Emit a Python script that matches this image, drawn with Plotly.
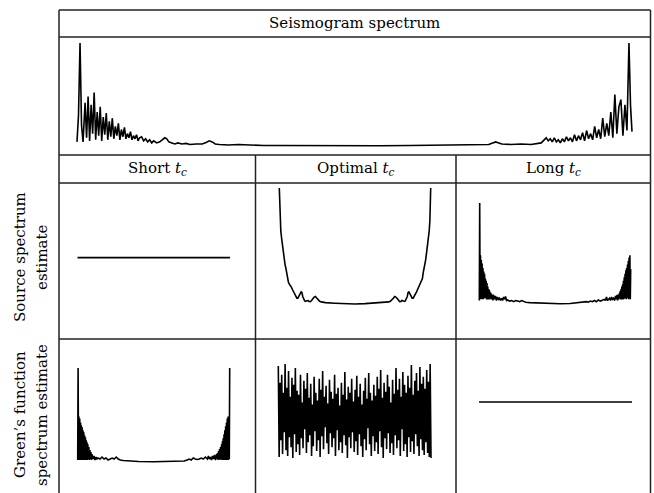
import numpy as np
import plotly.graph_objects as go

W, H = 654, 493

# ---------------- data ----------------
# Seismogram amplitude spectrum (frequency bin, relative amplitude)
seis_freq = [0, 1.5, 3, 4.5, 6, 8, 9.5, 11, 12.5, 14, 15.5, 17, 18.5, 20, 21.5, 23, 24.5, 26, 27.5, 29,
             30.5, 32, 33.5, 35, 36.5, 38, 39.5, 41, 42.5, 44, 45.5, 47, 48.5, 50, 51.5, 53, 54.5, 56,
             57.5, 59, 60.5, 62, 64, 66, 68, 70, 72, 74, 76, 79, 82, 85, 87, 89, 91, 94, 97, 100, 104,
             108, 112, 118, 124, 128, 131, 134, 137, 141, 150, 160, 170, 185, 200, 230, 260, 300, 330,
             360, 380, 400, 408, 412, 415, 418, 421, 430, 440, 450, 456, 460, 463, 465, 467, 469, 471,
             473, 475, 477, 479, 481, 483, 485, 487, 489, 491, 493, 495, 497, 499, 501, 503, 505, 507,
             509, 511, 513, 515, 517, 519, 521, 523, 525, 527, 529, 531, 533, 535, 537, 539, 541, 543,
             545, 547, 548.5, 550]
seis_amp = [4, 30, 100, 20, 4, 42, 8, 48, 5, 40, 12, 52, 6, 33, 10, 38, 5, 28, 11, 32,
            6, 24, 9, 27, 7, 19, 10, 22, 6, 16, 9, 18, 7, 12, 8, 14, 6, 10,
            7, 11, 5, 8, 9, 5, 7, 4, 6, 3, 5, 3, 4, 6, 8, 7, 4, 3, 2, 3, 2,
            2.5, 1.5, 2, 2, 3.5, 5, 4, 2, 1.5, 1, 1.5, 1, 0.5, 0.5, 0.3, 0.2, 0.3, 0.5,
            0.8, 1, 1.5, 1.5, 3, 4, 3, 2, 1.5, 2, 1.5, 2, 3, 6, 8, 5, 7, 4,
            8, 4, 6, 3, 7, 4, 9, 5, 8, 4, 11, 5, 10, 6, 13, 5, 15, 7,
            12, 6, 19, 8, 16, 7, 27, 9, 22, 10, 33, 8, 50, 12, 38, 45, 10, 40,
            15, 100, 40, 14]

# Source spectrum estimates
src_short_freq = [0, 150]
src_short_amp = [40, 40]

src_opt_freq = [0, 0.4, 0.8, 1.5, 2.4, 3.2, 4, 5, 5.7, 6.5, 7.4, 8.2, 9, 10.3, 11.7, 13, 14, 15.2, 16.4,
                17.4, 18.4, 19.6, 20.7, 21.6, 22.4, 23.2, 24, 25, 25.7, 27, 28.4, 29.5, 30.7, 32, 33,
                34.5, 35.7, 37, 38.4, 40, 41.7, 45.7, 55, 65, 75, 85, 95,
                104.3, 108.3, 110, 111.6, 113, 114.3, 115.5, 117, 118, 119.3, 120.5, 121.6, 123, 124.3,
                125, 126, 126.8, 127.6, 128.4, 129.3, 130.4, 131.6, 132.6, 133.6, 134.8, 136, 137,
                138.3, 139.7, 141, 141.8, 142.6, 143.5, 144.3, 145, 146, 146.8, 147.6, 148.5, 149.2,
                149.6, 150]
src_opt_amp = [100, 85, 72, 63, 56, 50, 45, 38, 34, 31, 27, 22, 19, 16.5, 15, 12.5, 10.5, 8, 6.3,
               5, 5, 6.5, 9, 10.5, 10, 6.5, 4.5, 3, 2.3, 2.6, 3, 2.2, 2, 3, 4.5,
               6, 6.5, 5, 3.5, 2.3, 1.8, 1.2, 0.7, 0.3, 0, 0.3, 0.7,
               1.2, 1.8, 2.3, 3.5, 5, 6.5, 6, 4.5, 3, 2, 2.2, 3, 2.6, 2.3,
               3, 4.5, 6.5, 10, 10.5, 9, 6.5, 5, 5, 6.3, 8, 10.5, 12.5,
               15, 16.5, 19, 22, 27, 31, 34, 38, 45, 50, 56, 63, 72,
               85, 100]

src_long_freq = [0, 0.4, 0.8, 1.2, 1.6, 2.0, 2.4, 2.8, 3.2, 3.6, 4.0, 4.4, 4.8, 5.2, 5.6, 6.0, 6.4, 6.8,
                 7.2, 7.6, 8.0, 8.4, 8.8, 9.2, 9.6, 10, 10.5, 11, 11.5, 12, 12.5, 13, 13.5, 14, 15, 16,
                 17, 18, 19, 20, 21, 22, 23, 24, 25, 26, 27, 28, 30, 32, 34, 36, 38, 40, 42, 44, 46, 50,
                 55, 60, 70, 80, 90, 95, 100, 104, 106, 108, 110, 112, 114, 116, 118, 120, 122, 124, 125,
                 126, 127, 128, 129, 130, 131, 132, 133, 134, 135, 136, 136.5, 137, 137.5, 138, 138.5,
                 139, 139.5, 140, 140.4, 140.8, 141.2, 141.6, 142, 142.4, 142.8, 143.2, 143.6, 144, 144.4,
                 144.8, 145.2, 145.6, 146, 146.4, 146.8, 147.2, 147.6, 148, 148.4, 148.8, 149.2, 149.6, 150]
src_long_amp = [3, 87, 4, 42, 5, 38, 4, 35, 6, 31, 4, 28, 6, 26, 5, 22, 6, 20,
                4, 18, 5, 15, 4, 13, 5, 12, 4, 10, 5, 9, 4, 8, 3, 8, 4, 7,
                3, 6, 4, 5, 3, 5, 3, 6, 4, 6.5, 3, 3.5, 2.5, 3, 2, 3, 2.5, 2, 3, 2, 1.5, 1.2,
                1, 0.6, 0.3, 0.2, 0.4, 0.8, 1, 1.5, 2, 1.5, 2.5, 2, 3, 2, 3.5, 2.5, 3, 4, 3,
                6, 3, 4, 5, 3, 6, 4, 5, 3, 7, 4, 8, 3, 8, 4, 9,
                5, 11, 4, 13, 5, 15, 4, 17, 5, 20, 4, 23, 6, 26, 5, 29,
                4, 31, 6, 34, 5, 37, 4, 40, 6, 42, 4, 30, 5, 87, 3]

# Green's function spectrum estimates
grn_short_freq = [0, 0.4, 0.8, 1.2, 1.6, 2.0, 2.4, 2.8, 3.2, 3.6, 4.0, 4.4, 4.8, 5.2, 5.6, 6.0, 6.4, 6.8,
                  7.2, 7.6, 8.0, 8.4, 8.8, 9.2, 9.6, 10, 10.5, 11, 11.5, 12, 12.5, 13, 13.5, 14, 15, 16,
                  17, 18, 19, 20, 22, 24, 26, 28, 30, 32, 34, 36, 38, 40, 42, 45, 50, 60, 75, 90, 100,
                  105, 108, 110, 112, 114, 116, 118, 120, 122, 124, 126, 128, 129, 130, 131, 132, 133,
                  134, 135, 136, 137, 137.5, 138, 138.5, 139, 139.5, 140, 140.5, 141, 141.5, 142, 142.4,
                  142.8, 143.2, 143.6, 144, 144.4, 144.8, 145.2, 145.6, 146, 146.4, 146.8, 147.2, 147.6,
                  148, 148.4, 148.8, 149.2, 149.6, 150]
grn_short_amp = [2, 95, 3, 46, 2, 44, 3, 40, 2, 37, 3, 35, 2, 32, 3, 30, 2, 27,
                 3, 25, 2, 22, 3, 20, 2, 18, 3, 15, 2, 12, 3, 10, 2, 8, 3, 6,
                 2, 5, 3, 4, 3, 5, 3, 4, 2, 3, 4, 3, 5, 3, 2, 1.5, 1, 0.5, 0.2, 0.3, 0.6,
                 1, 2, 3, 2, 4, 3, 2.5, 3, 4, 3, 5, 3, 6, 3, 5, 2, 6,
                 3, 7, 2, 8, 3, 9, 2, 11, 3, 13, 2, 15, 3, 18, 2,
                 21, 3, 24, 2, 28, 3, 32, 2, 36, 3, 40, 2, 44,
                 3, 46, 2, 40, 3, 95, 2]

grn_opt_amp = [97, 5, 80, 22, 88, 8, 70, 30, 99, 12, 75, 6, 92, 25, 66, 15, 85, 4, 78, 28,
               95, 10, 72, 18, 68, 7, 88, 24, 60, 14, 82, 33, 74, 9, 90, 20, 65, 27, 79, 6,
               58, 16, 86, 31, 70, 11, 62, 22, 84, 5, 73, 26, 92, 13, 66, 35, 77, 19, 59, 8,
               83, 29, 71, 15, 64, 24, 88, 6, 69, 32, 75, 12, 57, 20, 80, 9, 68, 27, 91, 17,
               63, 4, 76, 25, 70, 14, 84, 30, 61, 10, 73, 21, 87, 7, 66, 28, 79, 16, 58, 5,
               72, 23, 85, 12, 64, 34, 90, 18, 70, 6, 62, 26, 78, 11, 67, 20, 86, 8, 74, 31,
               93, 15, 65, 4, 80, 24, 71, 13, 88, 29, 76, 9, 60, 19, 83, 7, 69, 27, 95, 14,
               73, 22, 84, 6, 66, 33, 91, 11, 78, 18, 70, 5, 87, 25, 75, 10, 98, 21, 68, 8,
               82, 28, 90, 16, 72, 6, 96, 23, 79, 12, 86, 7, 74, 20, 93, 9, 81, 5, 99, 4]
grn_opt_freq = np.linspace(0, 150, len(grn_opt_amp))

grn_long_freq = [0, 150]
grn_long_amp = [60.6, 60.6]

header_top = "Seismogram spectrum"
col_headers = ["Short <i>t</i><sub><i>c</i></sub>", "Optimal <i>t</i><sub><i>c</i></sub>",
               "Long <i>t</i><sub><i>c</i></sub>"]
row_labels = [("Source spectrum", "estimate"), ("Green\u2019s function", "spectrum estimate")]

# ---------------- layout geometry (pixels) ----------------
FONT = "DejaVu Serif"
LINE = dict(color="black", width=1.6)

panels = [
    (seis_freq, seis_amp, (77, 632, 43, 146), (0, 550, 0, 100)),
    (src_short_freq, src_short_amp, (77.5, 230, 188, 304), (0, 150, 0, 100)),
    (src_opt_freq, src_opt_amp, (279.3, 430.7, 188, 304), (0, 150, 0, 100)),
    (src_long_freq, src_long_amp, (479.3, 630.7, 188, 304), (0, 150, 0, 100)),
    (grn_short_freq, grn_short_amp, (77.7, 229.7, 363, 462), (0, 150, 0, 100)),
    (grn_opt_freq, grn_opt_amp, (278.3, 431, 363, 462), (0, 150, 0, 100)),
    (grn_long_freq, grn_long_amp, (479, 632, 363, 462), (0, 150, 0, 100)),
]

fig = go.Figure()
layout = dict(width=W, height=H, margin=dict(l=0, r=0, t=0, b=0),
              paper_bgcolor="white", plot_bgcolor="rgba(0,0,0,0)", showlegend=False)

PAD = 5
for i, (fx, fy, (xl, xr, yt, yb), (x0, x1, y0, y1)) in enumerate(panels):
    n = "" if i == 0 else str(i + 1)
    sx = (x1 - x0) / (xr - xl)
    sy = (y1 - y0) / (yb - yt)
    layout["xaxis" + n] = dict(domain=[(xl - PAD) / W, (xr + PAD) / W],
                               range=[x0 - PAD * sx, x1 + PAD * sx], visible=False,
                               anchor="y" + n)
    layout["yaxis" + n] = dict(domain=[1 - (yb + PAD) / H, 1 - (yt - PAD) / H],
                               range=[y0 - PAD * sy, y1 + PAD * sy], visible=False,
                               anchor="x" + n)
    fig.add_trace(go.Scatter(x=fx, y=fy, mode="lines", line=LINE,
                             xaxis="x" + n, yaxis="y" + n, hoverinfo="skip"))

# grid (table) lines
GL = dict(color="#222222", width=1.5)
xL, xR, xA, xB = 59, 650.5, 255.5, 456
hlines = [10, 37, 155, 183, 339]
shapes = []
for yy in hlines:
    shapes.append(dict(type="line", xref="paper", yref="paper", x0=xL / W, x1=xR / W,
                       y0=1 - yy / H, y1=1 - yy / H, line=GL))
shapes.append(dict(type="line", xref="paper", yref="paper", x0=xL / W, x1=xL / W, y0=1 - 10 / H, y1=0, line=GL))
shapes.append(dict(type="line", xref="paper", yref="paper", x0=xR / W, x1=xR / W, y0=1 - 10 / H, y1=0, line=GL))
for xx in (xA, xB):
    shapes.append(dict(type="line", xref="paper", yref="paper", x0=xx / W, x1=xx / W, y0=1 - 155 / H, y1=0, line=GL))
layout["shapes"] = shapes

ann = []
def txt(s, x, y, angle=0, size=15):
    ann.append(dict(text=s, x=x / W, y=1 - y / H, xref="paper", yref="paper", showarrow=False,
                    xanchor="center", yanchor="middle", textangle=angle,
                    font=dict(family=FONT, size=size, color="black")))

txt(header_top, (xL + xR) / 2, 23.5)
for s, cx in zip(col_headers, [(xL + xA) / 2, (xA + xB) / 2, (xB + xR) / 2]):
    txt(s, cx, 169)
txt(row_labels[0][0], 20, 257, -90)
txt(row_labels[0][1], 42, 257, -90)
txt(row_labels[1][0], 20, 415, -90)
txt(row_labels[1][1], 42, 415, -90)
layout["annotations"] = ann

fig.update_layout(**layout)
fig.write_html("out.html", config={"displayModeBar": False},
               post_script="document.body.style.margin='0px';")
